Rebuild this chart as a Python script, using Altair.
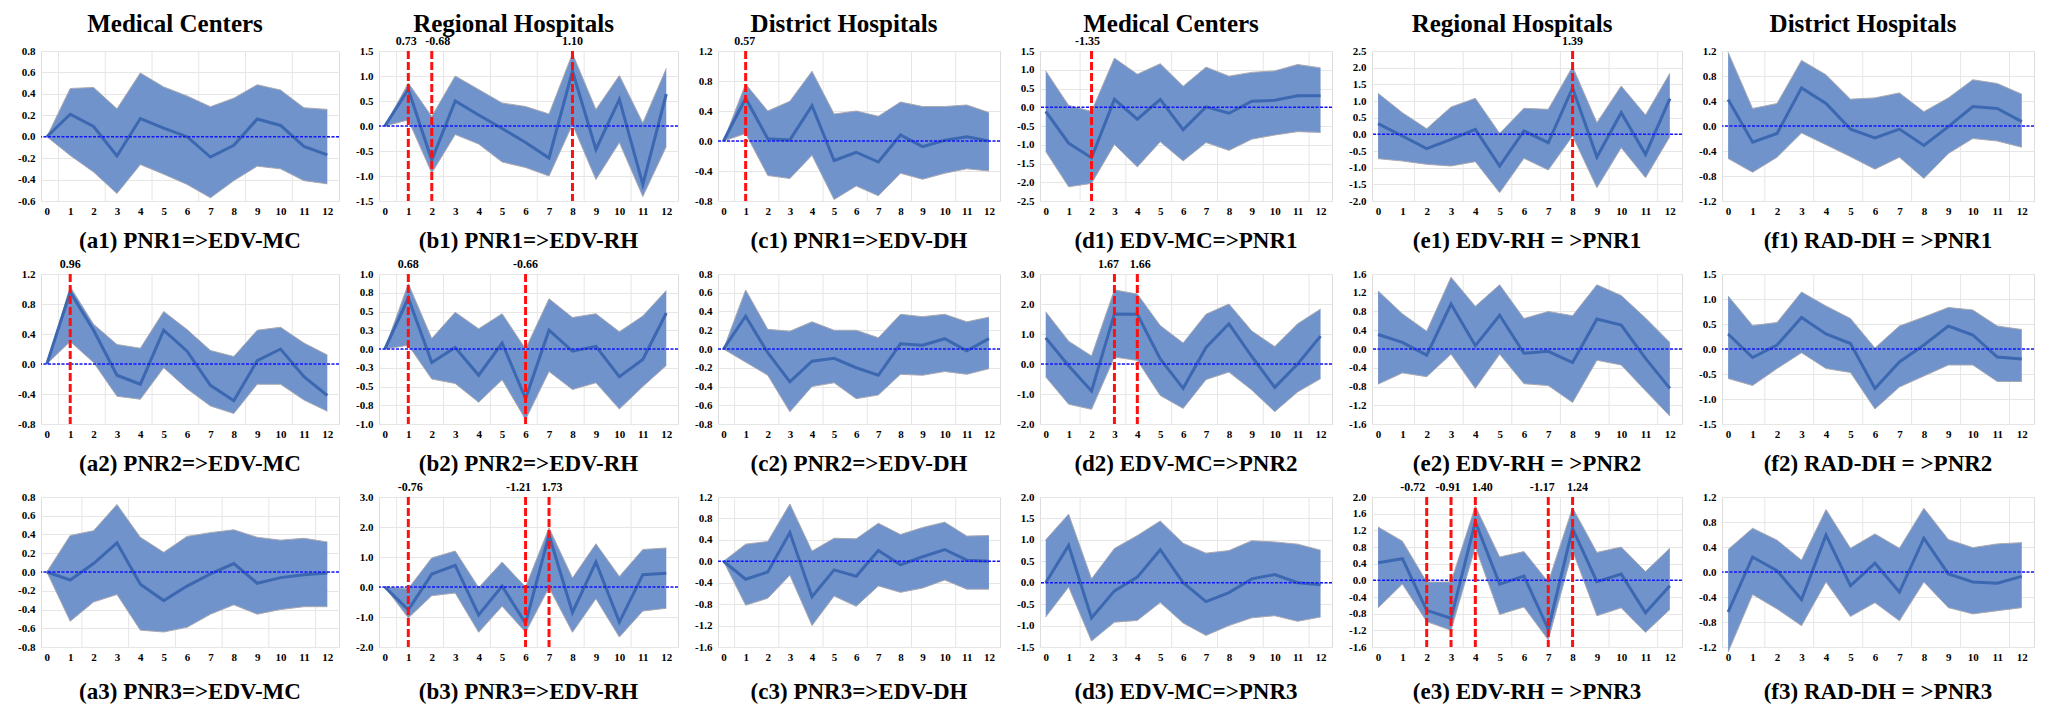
import altair as alt
import pandas as pd

# ---------------- data ----------------
STEPS = list(range(13))
X_TICK_VALUES = list(range(13))
GRID_ODD = [0.5, 2.5, 4.5, 6.5, 8.5, 10.5]
GRID_EVEN = [1.5, 3.5, 5.5, 7.5, 9.5, 11.5]

COLUMN_TITLES = ["Medical Centers", "Regional Hospitals", "District Hospitals",
                 "Medical Centers", "Regional Hospitals", "District Hospitals"]

A1_IRF = [0, 0.21, 0.095, -0.18, 0.17, 0.08, 0.0, -0.19, -0.08, 0.165, 0.105, -0.09, -0.17]
A1_UPPER = [0, 0.45, 0.46, 0.26, 0.595, 0.465, 0.38, 0.28, 0.36, 0.485, 0.435, 0.27, 0.255]
A1_LOWER = [0, -0.175, -0.33, -0.53, -0.26, -0.35, -0.445, -0.57, -0.41, -0.275, -0.3, -0.41, -0.44]
A1_YTICKS = [-0.6, -0.4, -0.2, 0.0, 0.2, 0.4, 0.6, 0.8]
A1_MARK_X, A1_MARK_LABEL = [], []

A2_IRF = [0, 0.96, 0.45, -0.15, -0.27, 0.45, 0.17, -0.285, -0.49, 0.045, 0.2, -0.17, -0.42]
A2_UPPER = [0, 1.03, 0.53, 0.26, 0.21, 0.7, 0.46, 0.18, 0.1, 0.45, 0.49, 0.28, 0.12]
A2_LOWER = [0, 0.3, 0.02, -0.43, -0.47, -0.05, -0.33, -0.56, -0.66, -0.27, -0.27, -0.48, -0.63]
A2_YTICKS = [-0.8, -0.4, 0.0, 0.4, 0.8, 1.2]
A2_MARK_X, A2_MARK_LABEL = [1], ["0.96"]

A3_IRF = [0, -0.085, 0.09, 0.31, -0.13, -0.305, -0.15, -0.02, 0.09, -0.12, -0.06, -0.03, -0.01]
A3_UPPER = [0, 0.39, 0.44, 0.72, 0.37, 0.21, 0.38, 0.42, 0.45, 0.37, 0.34, 0.36, 0.32]
A3_LOWER = [0, -0.525, -0.32, -0.24, -0.62, -0.64, -0.59, -0.45, -0.35, -0.45, -0.40, -0.37, -0.37]
A3_YTICKS = [-0.8, -0.6, -0.4, -0.2, 0.0, 0.2, 0.4, 0.6, 0.8]
A3_MARK_X, A3_MARK_LABEL = [], []

B1_IRF = [0, 0.73, -0.68, 0.5, 0.22, -0.05, -0.33, -0.64, 1.10, -0.47, 0.535, -1.17, 0.64]
B1_UPPER = [0, 0.86, 0.19, 1.0, 0.73, 0.46, 0.39, 0.24, 1.45, 0.33, 1.01, 0.06, 1.15]
B1_LOWER = [0, 0.12, -0.94, -0.17, -0.36, -0.72, -0.83, -1.0, 0.03, -1.07, -0.33, -1.41, -0.41]
B1_YTICKS = [-1.5, -1.0, -0.5, 0.0, 0.5, 1.0, 1.5]
B1_MARK_X, B1_MARK_LABEL = [1, 2, 8], ["0.73", "-0.68", "1.10"]

B2_IRF = [0, 0.68, -0.18, 0.02, -0.35, 0.08, -0.66, 0.25, -0.03, 0.035, -0.37, -0.14, 0.48]
B2_UPPER = [0, 0.87, 0.14, 0.49, 0.27, 0.47, 0.0, 0.67, 0.42, 0.47, 0.23, 0.44, 0.78]
B2_LOWER = [0, 0.05, -0.4, -0.46, -0.71, -0.41, -0.94, -0.30, -0.54, -0.45, -0.8, -0.5, -0.22]
B2_YTICKS = [-1.0, -0.75, -0.5, -0.25, 0.0, 0.25, 0.5, 0.75, 1.0]
B2_MARK_X, B2_MARK_LABEL = [1, 6], ["0.68", "-0.66"]

B3_IRF = [0, -0.76, 0.43, 0.72, -0.93, 0.03, -1.21, 1.73, -0.85, 0.83, -1.17, 0.41, 0.46]
B3_UPPER = [0, -0.05, 0.97, 1.2, -0.02, 0.83, 0.0, 1.97, 0.3, 1.44, 0.35, 1.25, 1.3]
B3_LOWER = [0, -1.03, -0.29, -0.2, -1.51, -0.64, -1.51, -0.02, -1.51, -0.39, -1.67, -0.8, -0.71]
B3_YTICKS = [-2.0, -1.0, 0.0, 1.0, 2.0, 3.0]
B3_MARK_X, B3_MARK_LABEL = [1, 6, 7], ["-0.76", "-1.21", "1.73"]

C1_IRF = [0, 0.57, 0.03, 0.015, 0.47, -0.26, -0.15, -0.28, 0.08, -0.075, 0.01, 0.055, 0.0]
C1_UPPER = [0, 0.76, 0.40, 0.53, 0.93, 0.36, 0.40, 0.33, 0.52, 0.46, 0.46, 0.48, 0.38]
C1_LOWER = [0, 0.10, -0.46, -0.5, -0.19, -0.78, -0.6, -0.73, -0.43, -0.51, -0.43, -0.37, -0.40]
C1_YTICKS = [-0.8, -0.4, 0.0, 0.4, 0.8, 1.2]
C1_MARK_X, C1_MARK_LABEL = [1], ["0.57"]

C2_IRF = [0, 0.35, -0.04, -0.35, -0.13, -0.1, -0.2, -0.28, 0.055, 0.04, 0.11, -0.02, 0.11]
C2_UPPER = [0, 0.63, 0.21, 0.19, 0.29, 0.2, 0.2, 0.12, 0.37, 0.345, 0.37, 0.29, 0.34]
C2_LOWER = [0, -0.14, -0.28, -0.67, -0.40, -0.36, -0.53, -0.49, -0.27, -0.28, -0.24, -0.27, -0.21]
C2_YTICKS = [-0.8, -0.6, -0.4, -0.2, 0.0, 0.2, 0.4, 0.6, 0.8]
C2_MARK_X, C2_MARK_LABEL = [], []

C3_IRF = [0, -0.335, -0.2, 0.535, -0.66, -0.16, -0.28, 0.2, -0.065, 0.085, 0.22, 0.02, 0.0]
C3_UPPER = [0, 0.32, 0.37, 1.07, 0.19, 0.43, 0.42, 0.71, 0.5, 0.63, 0.73, 0.47, 0.48]
C3_LOWER = [0, -0.82, -0.69, -0.26, -1.2, -0.65, -0.84, -0.46, -0.58, -0.5, -0.35, -0.52, -0.52]
C3_YTICKS = [-1.6, -1.2, -0.8, -0.4, 0.0, 0.4, 0.8, 1.2]
C3_MARK_X, C3_MARK_LABEL = [], []

D1_IRF = [-0.11, -0.96, -1.35, 0.21, -0.32, 0.21, -0.6, 0.01, -0.16, 0.16, 0.185, 0.305, 0.305]
D1_UPPER = [0.97, 0.05, -0.11, 1.31, 0.88, 1.16, 0.56, 1.07, 0.83, 0.93, 0.97, 1.14, 1.05]
D1_LOWER = [-1.18, -2.12, -2.03, -0.99, -1.59, -0.92, -1.43, -0.94, -1.15, -0.85, -0.74, -0.65, -0.67]
D1_YTICKS = [-2.5, -2.0, -1.5, -1.0, -0.5, 0.0, 0.5, 1.0, 1.5]
D1_MARK_X, D1_MARK_LABEL = [2], ["-1.35"]

D2_IRF = [0.87, -0.06, -0.9, 1.67, 1.66, 0.17, -0.81, 0.55, 1.34, 0.25, -0.78, 0.0, 0.93]
D2_UPPER = [1.74, 0.76, 0.27, 2.47, 2.33, 1.28, 0.7, 1.66, 2.0, 1.1, 0.58, 1.34, 1.83]
D2_LOWER = [-0.43, -1.34, -1.51, 0.23, 0.12, -1.05, -1.48, -0.52, -0.27, -0.87, -1.59, -0.93, -0.49]
D2_YTICKS = [-2.0, -1.0, 0.0, 1.0, 2.0, 3.0]
D2_MARK_X, D2_MARK_LABEL = [3, 4], ["1.67", "1.66"]

D3_IRF = [0.0, 0.87, -0.82, -0.19, 0.13, 0.77, 0.0, -0.44, -0.23, 0.09, 0.19, 0.0, -0.05]
D3_UPPER = [1.0, 1.6, 0.09, 0.8, 1.1, 1.44, 0.92, 0.69, 0.75, 0.98, 0.95, 0.9, 0.76]
D3_LOWER = [-0.8, -0.1, -1.36, -0.92, -0.88, -0.46, -0.94, -1.23, -1.0, -0.82, -0.77, -0.9, -0.8]
D3_YTICKS = [-1.5, -1.0, -0.5, 0.0, 0.5, 1.0, 1.5, 2.0]
D3_MARK_X, D3_MARK_LABEL = [], []

E1_IRF = [0.32, -0.05, -0.43, -0.15, 0.15, -0.95, 0.1, -0.25, 1.39, -0.68, 0.65, -0.6, 1.07]
E1_UPPER = [1.23, 0.65, 0.17, 0.82, 1.08, 0.03, 0.78, 0.75, 2.03, 0.35, 1.45, 0.58, 1.83]
E1_LOWER = [-0.73, -0.8, -0.9, -0.95, -0.82, -1.75, -0.72, -1.07, -0.05, -1.6, -0.4, -1.3, -0.07]
E1_YTICKS = [-2.0, -1.5, -1.0, -0.5, 0.0, 0.5, 1.0, 1.5, 2.0, 2.5]
E1_MARK_X, E1_MARK_LABEL = [8], ["1.39"]

E2_IRF = [0.31, 0.14, -0.13, 0.96, 0.07, 0.72, -0.09, -0.05, -0.29, 0.64, 0.51, -0.2, -0.84]
E2_UPPER = [1.24, 0.75, 0.38, 1.53, 0.91, 1.37, 0.65, 0.8, 0.71, 1.37, 1.14, 0.66, 0.14]
E2_LOWER = [-0.75, -0.51, -0.59, -0.11, -0.84, -0.11, -0.74, -0.78, -1.14, -0.24, -0.34, -0.89, -1.43]
E2_YTICKS = [-1.6, -1.2, -0.8, -0.4, 0.0, 0.4, 0.8, 1.2, 1.6]
E2_MARK_X, E2_MARK_LABEL = [], []

E3_IRF = [0.42, 0.52, -0.72, -0.91, 1.40, -0.09, 0.1, -1.17, 1.24, -0.03, 0.15, -0.78, -0.13]
E3_UPPER = [1.28, 0.94, -0.04, -0.04, 1.78, 0.56, 0.69, -0.04, 1.74, 0.67, 0.8, 0.21, 0.77]
E3_LOWER = [-0.66, -0.09, -0.99, -1.2, 0.8, -0.82, -0.64, -1.43, 0.71, -0.85, -0.66, -1.25, -0.70]
E3_YTICKS = [-1.6, -1.2, -0.8, -0.4, 0.0, 0.4, 0.8, 1.2, 1.6, 2.0]
E3_MARK_X, E3_MARK_LABEL = [2, 3, 4, 7, 8], ["-0.72", "-0.91", "1.40", "-1.17", "1.24"]

F1_IRF = [0.425, -0.26, -0.12, 0.61, 0.36, -0.05, -0.19, -0.05, -0.31, -0.01, 0.31, 0.28, 0.07]
F1_UPPER = [1.18, 0.28, 0.36, 1.05, 0.82, 0.43, 0.45, 0.53, 0.23, 0.45, 0.74, 0.68, 0.51]
F1_LOWER = [-0.52, -0.74, -0.5, -0.11, -0.30, -0.49, -0.69, -0.5, -0.84, -0.44, -0.2, -0.24, -0.34]
F1_YTICKS = [-1.2, -0.8, -0.4, 0.0, 0.4, 0.8, 1.2]
F1_MARK_X, F1_MARK_LABEL = [], []

F2_IRF = [0.3, -0.17, 0.08, 0.63, 0.3, 0.11, -0.79, -0.26, 0.08, 0.46, 0.28, -0.16, -0.2]
F2_UPPER = [1.06, 0.47, 0.53, 1.14, 0.86, 0.61, 0.02, 0.46, 0.64, 0.83, 0.78, 0.46, 0.39]
F2_LOWER = [-0.59, -0.73, -0.39, -0.075, -0.39, -0.47, -1.2, -0.76, -0.54, -0.32, -0.32, -0.65, -0.65]
F2_YTICKS = [-1.5, -1.0, -0.5, 0.0, 0.5, 1.0, 1.5]
F2_MARK_X, F2_MARK_LABEL = [], []

F3_IRF = [-0.64, 0.24, 0.02, -0.44, 0.59, -0.22, 0.14, -0.32, 0.54, -0.03, -0.16, -0.18, -0.07]
F3_UPPER = [0.36, 0.70, 0.51, 0.19, 1.0, 0.38, 0.61, 0.38, 1.02, 0.52, 0.39, 0.45, 0.47]
F3_LOWER = [-1.28, -0.36, -0.59, -0.86, -0.16, -0.71, -0.49, -0.78, -0.16, -0.57, -0.67, -0.62, -0.57]
F3_YTICKS = [-1.2, -0.8, -0.4, 0.0, 0.4, 0.8, 1.2]
F3_MARK_X, F3_MARK_LABEL = [], []

PANEL_KEYS = [["a1", "b1", "c1", "d1", "e1", "f1"],
              ["a2", "b2", "c2", "d2", "e2", "f2"],
              ["a3", "b3", "c3", "d3", "e3", "f3"]]

CAPTIONS = {
    "a1": "(a1) PNR1=>EDV-MC", "b1": "(b1) PNR1=>EDV-RH", "c1": "(c1) PNR1=>EDV-DH",
    "d1": "(d1) EDV-MC=>PNR1", "e1": "(e1) EDV-RH = >PNR1", "f1": "(f1) RAD-DH = >PNR1",
    "a2": "(a2) PNR2=>EDV-MC", "b2": "(b2) PNR2=>EDV-RH", "c2": "(c2) PNR2=>EDV-DH",
    "d2": "(d2) EDV-MC=>PNR2", "e2": "(e2) EDV-RH = >PNR2", "f2": "(f2) RAD-DH = >PNR2",
    "a3": "(a3) PNR3=>EDV-MC", "b3": "(b3) PNR3=>EDV-RH", "c3": "(c3) PNR3=>EDV-DH",
    "d3": "(d3) EDV-MC=>PNR3", "e3": "(e3) EDV-RH = >PNR3", "f3": "(f3) RAD-DH = >PNR3",
}

G = globals()
PANELS = {}
for row in PANEL_KEYS:
    for k in row:
        K = k.upper()
        PANELS[k] = dict(irf=G[K + "_IRF"], hi=G[K + "_UPPER"], lo=G[K + "_LOWER"],
                         yt=G[K + "_YTICKS"], mx=G[K + "_MARK_X"], ml=G[K + "_MARK_LABEL"])

# ---------------- style ----------------
FONT = "Liberation Serif"
COL_WIDTHS = [298, 299, 282, 292, 310, 312]
PANEL_H = 150
BAND = "#7093cc"
LINE = "#3c67b1"
EDGE = "#a9a9b0"
ZERO = "#1414ff"
RED = "#ff1010"
GRIDC = "#e6e6e6"
GRID_SET = {"a1": GRID_ODD, "a2": GRID_ODD, "a3": GRID_EVEN,
            "b1": GRID_ODD, "b2": GRID_ODD, "b3": GRID_ODD,
            "c1": GRID_ODD, "c2": GRID_ODD, "c3": GRID_ODD}
LABEL_DX = {"b1": [-2, 6, 0], "b3": [2, -7, 3], "c1": [-1], "d1": [-4],
            "d2": [-6, 3], "e3": [-14, -3, 7, -6, 5]}
CAPTION_OFFSET = [14, 14, 19]

X_DOMAIN = [-0.25, 12.5]
YLABEL_EXPR = "replace(format(datum.value, '.1f'), '\u2212', '-')"


def build_panel(key, col, row):
    p = PANELS[key]
    w = COL_WIDTHS[col]
    df = pd.DataFrame({"step": STEPS, "irf": p["irf"], "hi": p["hi"], "lo": p["lo"]})
    xs = alt.Scale(domain=X_DOMAIN, nice=False, zero=False)
    ys = alt.Scale(domain=[min(p["yt"]), max(p["yt"])], nice=False, zero=False)
    xax = alt.Axis(values=X_TICK_VALUES, format="d", grid=False, domain=False, ticks=False,
                   labelPadding=4, labelFont=FONT, labelFontSize=11, labelFontWeight="bold",
                   labelColor="black", title=None, labelFlush=False, labelOverlap=False)
    yax = alt.Axis(values=p["yt"], labelExpr=YLABEL_EXPR, grid=True, gridColor=GRIDC,
                   gridWidth=1, domain=False, ticks=False, labelPadding=6, labelFont=FONT,
                   labelFontSize=11, labelFontWeight="bold", labelColor="black",
                   title=None, labelFlush=False, labelOverlap=False)

    def X(f):
        return alt.X(f, type="quantitative", scale=xs, axis=xax)

    def Y(f):
        return alt.Y(f, type="quantitative", scale=ys, axis=yax)

    grid = GRID_SET.get(key, GRID_EVEN)
    layers = [
        alt.Chart(pd.DataFrame({"g": grid})).mark_rule(color=GRIDC, strokeWidth=1).encode(x=X("g")),
        alt.Chart(df).mark_area(color=BAND, opacity=1).encode(x=X("step"), y=Y("lo"), y2=alt.Y2("hi")),
        alt.Chart(df).mark_line(color=EDGE, strokeWidth=1).encode(x=X("step"), y=Y("hi")),
        alt.Chart(df).mark_line(color=EDGE, strokeWidth=1).encode(x=X("step"), y=Y("lo")),
        alt.Chart(df).mark_line(color=LINE, strokeWidth=3).encode(x=X("step"), y=Y("irf")),
        alt.Chart(pd.DataFrame({"z": [0.0]})).mark_rule(color=ZERO, strokeWidth=1.5, strokeDash=[3, 1.5]).encode(y=Y("z")),
    ]
    if p["mx"]:
        mdf = pd.DataFrame({"step": p["mx"], "label": p["ml"]})
        layers.append(alt.Chart(mdf).mark_rule(color=RED, strokeWidth=3, strokeDash=[8, 3]).encode(x=X("step")))
        dxs = LABEL_DX.get(key, [0] * len(p["mx"]))
        for i in range(len(p["mx"])):
            layers.append(
                alt.Chart(mdf.iloc[[i]]).mark_text(font=FONT, fontSize=12, fontWeight="bold", color="black",
                                                   baseline="alphabetic", dx=dxs[i])
                .encode(x=X("step"), y=alt.value(-6), text="label:N"))
    if row == 0:
        layers.append(
            alt.Chart(pd.DataFrame({"t": [COLUMN_TITLES[col]]})).mark_text(
                font=FONT, fontSize=25, fontWeight="bold", color="black", baseline="alphabetic")
            .encode(x=alt.value(w / 2 - 15), y=alt.value(-19), text="t:N"))
    return alt.layer(*layers).properties(
        width=w, height=PANEL_H,
        title=alt.TitleParams(CAPTIONS[key], orient="bottom", font=FONT, fontSize=23,
                              fontWeight="bold", color="black", offset=CAPTION_OFFSET[row],
                              anchor="middle"))


charts = []
for r, row in enumerate(PANEL_KEYS):
    for c, k in enumerate(row):
        charts.append(build_panel(k, c, r))

chart = alt.concat(*charts, columns=6, spacing={"row": 73, "column": 40},
                   bounds="flush", align="each").properties(
    padding={"left": 9, "top": 3, "right": 5, "bottom": 0}
).configure_view(stroke=None).configure(background="white")

chart.save("out.html", embed_options={"renderer": "svg", "actions": False})
